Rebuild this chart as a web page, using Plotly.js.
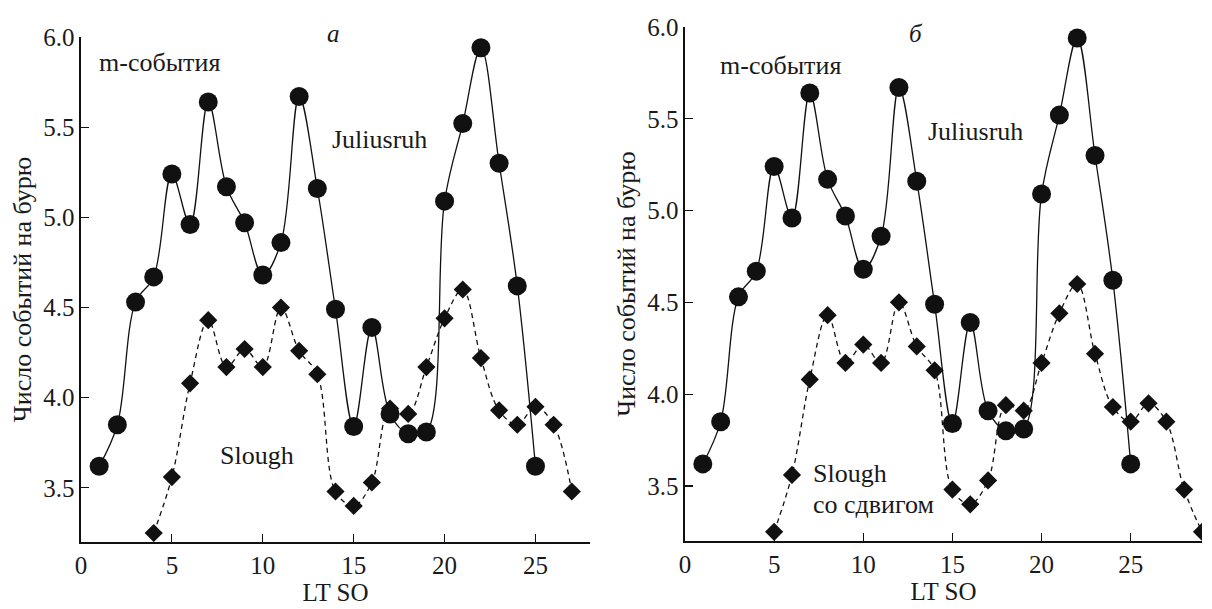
<!DOCTYPE html>
<html>
<head>
<meta charset="utf-8">
<script src="https://cdn.plot.ly/plotly-3.0.1.min.js"></script>
<style>html,body{margin:0;padding:0;background:#fff;}#chart{width:1212px;height:609px;}</style>
</head>
<body>
<div id="chart"></div>
<script>
// Panel а: Juliusruh and Slough (no shift)
const juliusX = [1,2,3,4,5,6,7,8,9,10,11,12,13,14,15,16,17,18,19,20,21,22,23,24,25];
const juliusY = [3.62,3.85,4.53,4.67,5.24,4.96,5.64,5.17,4.97,4.68,4.86,5.67,5.16,4.49,3.84,4.39,3.91,3.80,3.81,5.09,5.52,5.94,5.30,4.62,3.62];
const sloughX_a = [4,5,6,7,8,9,10,11,12,13,14,15,16,17,18,19,20,21,22,23,24,25,26,27];
const sloughY_a = [3.25,3.56,4.08,4.43,4.17,4.27,4.17,4.50,4.26,4.13,3.48,3.40,3.53,3.94,3.91,4.17,4.44,4.60,4.22,3.93,3.85,3.95,3.85,3.48];
// Panel б: Slough shifted
const sloughX_b = [5,6,7,8,9,10,11,12,13,14,15,16,17,18,19,20,21,22,23,24,25,26,27,28,29];
const sloughY_b = [3.25,3.56,4.08,4.43,4.17,4.27,4.17,4.50,4.26,4.13,3.48,3.40,3.53,3.94,3.91,4.17,4.44,4.60,4.22,3.93,3.85,3.95,3.85,3.48,3.25];
const yTicks = [3.5,4.0,4.5,5.0,5.5,6.0];
const yTickText = ['3.5','4.0','4.5','5.0','5.5','6.0'];
const xTicks = [0,5,10,15,20,25];
const xTitle = 'LT SO';
const yTitle = 'Число событий на бурю';

const FONT = 'Liberation Serif';
const TXT = '#1a1a1a';
const circ = {symbol:'circle', size:19, color:'#111'};
const diam = {symbol:'diamond', size:14, color:'#111'};
const solid = {color:'#111', width:1.3, shape:'spline', smoothing:1};
const dashed = {color:'#111', width:1.3, shape:'spline', smoothing:1, dash:'5px,4px'};

const traces = [
  {x:sloughX_a, y:sloughY_a, xaxis:'x', yaxis:'y', mode:'lines+markers', line:dashed, marker:diam, name:'Slough'},
  {x:juliusX, y:juliusY, xaxis:'x', yaxis:'y', mode:'lines+markers', line:solid, marker:circ, name:'Juliusruh'},
  {x:sloughX_b, y:sloughY_b, xaxis:'x2', yaxis:'y2', mode:'lines+markers', line:dashed, marker:diam, name:'Slough со сдвигом'},
  {x:juliusX, y:juliusY, xaxis:'x2', yaxis:'y2', mode:'lines+markers', line:solid, marker:circ, name:'Juliusruh'}
];

function xa(domain, range){
  return {domain:domain, range:range, showgrid:false, zeroline:false, showline:true, linecolor:'#111', linewidth:1.6,
    ticks:'inside', ticklen:8, tickwidth:1.2, tickcolor:'#111', tickvals:xTicks, ticktext:xTicks.map(String),
    tickfont:{family:FONT, size:25, color:TXT},
    title:{text:xTitle, font:{family:FONT, size:25, color:TXT}, standoff:4}};
}
function ya(domain, anchor){
  return {domain:domain, range:[3.2,6.0], anchor:anchor, showgrid:false, zeroline:false, showline:true, linecolor:'#111', linewidth:1.6,
    ticks:'inside', ticklen:8, tickwidth:1.2, tickcolor:'#111', tickvals:yTicks, ticktext:yTickText,
    tickfont:{family:FONT, size:25, color:TXT},
    title:{text:yTitle, font:{family:FONT, size:26, color:TXT}, standoff:4}};
}

const ann = (text, x, y, xref, yref, size, opts) => Object.assign({text:text, x:x, y:y, xref:xref, yref:yref, showarrow:false,
  font:{family:FONT, size:size, color:TXT}}, opts||{});

const layout = {
  width:1212, height:609, margin:{l:0, r:0, t:0, b:0}, showlegend:false,
  font:{family:FONT},
  paper_bgcolor:'#fff', plot_bgcolor:'#fff',
  xaxis: Object.assign(xa([81/1212, 590/1212],[0,28]), {anchor:'y'}),
  yaxis: ya([67/609, 572/609], 'x'),
  xaxis2: Object.assign(xa([685/1212, 1202/1212],[0,29]), {anchor:'y2'}),
  yaxis2: ya([68/609, 582/609], 'x2'),
  annotations:[
    ann('<i>а</i>', 325/1212, 1-18/609, 'paper', 'paper', 25),
    ann('<i>б</i>', 925/1212, 1-18/609, 'paper', 'paper', 25),
    ann('m-события', 4.34, 5.86, 'x', 'y', 26),
    ann('Juliusruh', 16.4, 5.43, 'x', 'y', 26),
    ann('Slough', 9.67, 3.68, 'x', 'y', 26),
    ann('m-события', 5.34, 5.79, 'x2', 'y2', 26),
    ann('Juliusruh', 16.3, 5.43, 'x2', 'y2', 26),
    ann('Slough', 7.08, 3.57, 'x2', 'y2', 26, {xanchor:'left'}),
    ann('со сдвигом', 7.08, 3.40, 'x2', 'y2', 26, {xanchor:'left'})
  ]
};

Plotly.newPlot('chart', traces, layout, {displayModeBar:false, staticPlot:true});
</script>
</body>
</html>
